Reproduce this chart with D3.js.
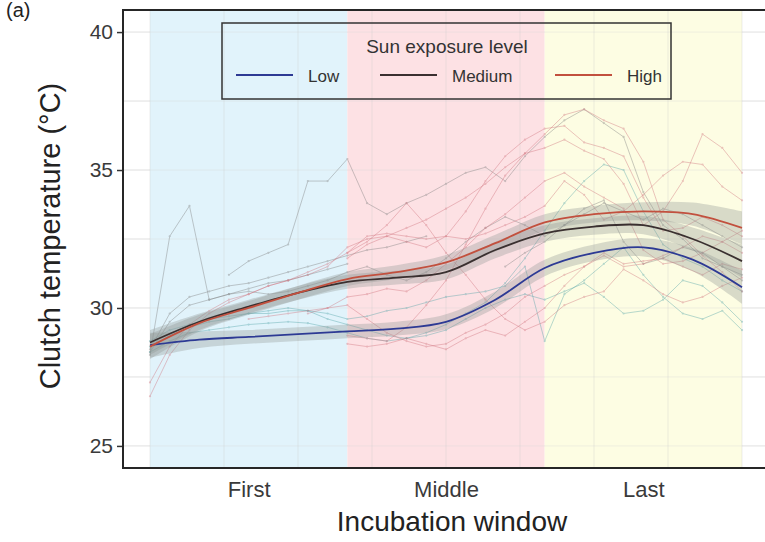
<!DOCTYPE html>
<html>
<head>
<meta charset="utf-8">
<script src="https://cdn.jsdelivr.net/npm/d3@7"></script>
<style>
  html, body { margin: 0; padding: 0; background: #fff; }
  svg { display: block; font-family: "Liberation Sans", Arial, Helvetica, sans-serif; }
</style>
</head>
<body>
<svg id="chart" width="765" height="542"></svg>
<script>
// ---------------- DATA ----------------
const windowNames = ["First", "Middle", "Last"];
const windowStart = [0, 20, 40];   // incubation day
const windowEnd = [20, 40, 60];
const windowFill = ["#e1f3fb", "#fde1e4", "#fdfde3"];

const yTicks = [25, 30, 35, 40];
const yGrid = [25, 27.5, 30, 32.5, 35, 37.5, 40];
const xGrid = [0, 7.5, 15, 22.5, 30, 37.5, 45, 52.5, 60];

const levels = ["Low", "Medium", "High"];
const levelColor = ["#2d3a94", "#3a3030", "#c2503e"];
const traceColor = ["#4ea2a6", "#7c7c7c", "#d06f7a"];

// smoothed fits (every 5 days)
const fitDays = [0, 5, 10, 15, 20, 25, 30, 35, 40, 45, 50, 55, 60];
const fitLow = [28.65, 28.85, 28.95, 29.05, 29.15, 29.25, 29.5, 30.3, 31.45, 32.0, 32.2, 31.75, 30.75];
const fitMedium = [28.75, 29.5, 30.05, 30.55, 30.95, 31.1, 31.3, 32.1, 32.7, 32.95, 33.0, 32.5, 31.7];
const fitHigh = [28.6, 29.45, 30.0, 30.55, 31.05, 31.3, 31.65, 32.35, 33.1, 33.4, 33.5, 33.4, 32.9];
const fitSE = [0.45, 0.3, 0.25, 0.25, 0.25, 0.25, 0.27, 0.3, 0.3, 0.3, 0.33, 0.42, 0.6];

// individual clutches (every 2 days, starting at index traceStart)
const traceStep = 2;
const G1 = [28.3, 32.6, 33.7, 30.3, 30.5, 30.7, 30.9, 31.0, 31.2, 31.4, 31.6];
const G2 = [31.2, 31.7, 32.0, 32.3, 34.6, 34.6, 35.4, 33.8, 33.4, 33.8, 34.1, 34.5, 34.9, 35.1, 34.6, 35.5, 36.2, 36.8, 37.2, 36.7, 36.2, 34.2, 33.0, 32.5, 31.8, 31.5, 31.2];
const G3 = [28.5, 29.8, 30.4, 30.6, 30.8, 30.9, 31.1, 31.3, 31.5, 31.7, 31.9, 32.1, 32.2, 32.4, 32.6];
const G4 = [28.4, 29.5, 30.1, 30.3, 30.5, 30.6, 30.5, 30.6, 30.8, 31.0, 31.3, 31.5, 31.2, 31.0, 31.3, 31.8, 32.4, 32.9, 33.3, 33.0, 32.6, 33.0, 33.4, 33.8, 33.5, 33.2, 33.6, 33.4, 33.0, 32.6, 32.2];
const G5 = [31.5, 32.0, 32.4, 33.0, 33.6, 33.9, 32.4, 31.6, 31.8, 32.2, 32.0, 31.5, 31.0];
const L1 = [28.6, 29.0, 29.3, 29.5, 29.6, 29.8, 29.8, 29.9, 29.9, 29.6, 29.4, 29.2, 29.0, 28.9, 29.1, 29.4, 29.8, 30.2, 30.9, 31.8, 32.8, 33.8, 34.6, 35.2, 35.0, 33.5, 32.3, 31.8, 31.5, 31.0, 30.6];
const L2 = [28.4, 28.8, 29.1, 29.2, 29.3, 29.4, 29.45, 29.5, 29.45, 29.3, 29.1, 28.9, 28.8, 28.9, 29.0, 29.2, 29.6, 30.0, 30.3, 30.5, 30.3, 30.6, 30.9, 30.4, 29.8, 29.9, 30.3, 31.0, 30.8, 30.2, 29.5];
const L3 = [28.8, 29.2, 29.4, 29.6, 29.7, 29.8, 29.9, 30.0, 29.9, 29.8, 29.6, 29.7, 29.9, 30.0, 30.2, 30.4, 30.5, 30.6, 30.8, 31.5, 28.8, 30.5, 31.0, 31.6, 32.2, 31.2, 30.4, 29.8, 29.6, 29.9, 29.2];
const R1 = [26.8, 28.3, 29.2, 29.8, 30.2, 30.5, 30.8, 31.0, 31.3, 31.6, 32.0, 32.6, 32.7, 32.6, 32.5, 32.6, 32.5, 32.7, 33.0, 33.3, 33.7, 34.6, 34.1, 33.2, 33.5, 34.1, 34.8, 35.3, 35.2, 34.4, 33.9];
const R2 = [27.3, 28.6, 29.4, 29.9, 30.3, 30.5, 30.8, 31.0, 31.2, 31.5, 32.2, 32.5, 32.6, 32.4, 32.2, 32.6, 33.5, 34.6, 35.5, 36.1, 36.5, 36.6, 36.0, 35.8, 35.5, 34.0, 32.8, 32.9, 33.3, 33.0, 32.6];
const R3 = [29.0, 28.9, 28.8, 29.3, 30.1, 31.0, 32.3, 33.6, 34.8, 35.6, 36.3, 37.0, 37.2, 36.8, 36.5, 35.3, 33.2, 32.6, 31.9, 31.3, 30.6];
const R4 = [32.0, 32.4, 33.0, 33.8, 33.0, 32.0, 31.2, 30.3, 29.6, 29.2, 29.5, 30.1, 30.4, 30.6, 31.4, 31.0, 30.5, 30.2, 30.4, 30.8, 31.1];
const R5 = [28.7, 28.6, 28.7, 28.9, 28.7, 28.5, 28.9, 29.2, 29.0, 29.5, 30.0, 30.8, 31.5, 32.0, 31.6, 31.7, 31.8, 31.5, 31.2, 31.6, 31.4];
const R6 = [31.8, 32.3, 32.6, 32.9, 33.2, 33.6, 34.0, 34.5, 35.1, 35.6, 35.8, 36.1, 35.7, 35.4, 34.5, 33.0, 33.5, 34.6, 36.3, 35.8, 34.9];
const R7 = [29.8, 30.0, 30.4, 30.5, 30.7, 30.6, 31.0, 31.6, 32.2, 32.9, 33.4, 34.0, 34.6, 34.9, 34.4, 34.0, 33.6, 32.1, 31.6, 31.7, 32.0, 32.4, 32.8];
const R8 = [29.6, 29.7, 29.8, 29.9, 30.0, 30.1, 29.6, 29.1, 28.8, 28.6, 28.7, 29.1, 29.4, 29.8, 30.4, 30.8, 31.2, 31.5, 31.9, 31.5, 31.6, 31.9, 32.2, 32.6, 32.4, 32.0];

const traceValues = [G1, G2, G3, G4, G5, L1, L2, L3, R1, R2, R3, R4, R5, R6, R7, R8];
const traceStart = [0, 4, 0, 0, 18, 0, 0, 0, 0, 0, 10, 10, 10, 10, 8, 5];
const traceLevel = [1, 1, 1, 1, 1, 0, 0, 0, 2, 2, 2, 2, 2, 2, 2, 2];

// ---------------- CHART ----------------
const svg = d3.select("#chart");
const W = 765, H = 542;
const panel = { left: 123, top: 10, right: 765, bottom: 468 };

const x = d3.scaleLinear().domain([-2.736, 62.33]).range([panel.left, panel.right]);
const y = d3.scaleLinear().domain([24.2, 40.8]).range([panel.bottom, panel.top]);

svg.append("rect").attr("width", W).attr("height", H).attr("fill", "#fff");

const clip = svg.append("defs").append("clipPath").attr("id", "clip");
clip.append("rect").attr("x", panel.left).attr("y", panel.top)
  .attr("width", panel.right - panel.left).attr("height", panel.bottom - panel.top);

const plot = svg.append("g").attr("clip-path", "url(#clip)");

// horizontal grid (white panel area)
plot.selectAll("line.hg").data(yGrid).join("line")
  .attr("x1", panel.left).attr("x2", panel.right)
  .attr("y1", d => y(d)).attr("y2", d => y(d))
  .attr("stroke", "#ebebeb").attr("stroke-width", 1);

// window shading
plot.selectAll("rect.win").data(windowNames).join("rect")
  .attr("x", (d, i) => x(windowStart[i]))
  .attr("width", (d, i) => x(windowEnd[i]) - x(windowStart[i]))
  .attr("y", panel.top).attr("height", panel.bottom - panel.top)
  .attr("fill", (d, i) => windowFill[i]);

// grid over shading (faint)
plot.selectAll("line.hg2").data(yGrid).join("line")
  .attr("x1", panel.left).attr("x2", panel.right)
  .attr("y1", d => y(d)).attr("y2", d => y(d))
  .attr("stroke", "#d8d8d8").attr("stroke-opacity", 0.35).attr("stroke-width", 1);
plot.selectAll("line.vg").data(xGrid).join("line")
  .attr("y1", panel.top).attr("y2", panel.bottom)
  .attr("x1", d => x(d)).attr("x2", d => x(d))
  .attr("stroke", "#c8c8c8").attr("stroke-opacity", 0.35).attr("stroke-width", 1);

// individual traces
const traceLine = d3.line()
  .defined(d => d.v != null)
  .x(d => x(d.day)).y(d => y(d.v));

traceValues.forEach((vals, k) => {
  const pts = vals.map((v, j) => ({ day: (traceStart[k] + j) * traceStep, v }));
  const col = traceColor[traceLevel[k]];
  const g = plot.append("g").attr("opacity", 0.4);
  g.append("path").datum(pts).attr("d", traceLine)
    .attr("fill", "none").attr("stroke", col).attr("stroke-width", 1);
  g.selectAll("circle").data(pts).join("circle")
    .attr("cx", d => x(d.day)).attr("cy", d => y(d.v)).attr("r", 1.1)
    .attr("fill", col);
});

// fitted ribbons and lines
const fits = [fitLow, fitMedium, fitHigh];
const curve = d3.curveCatmullRom.alpha(0.5);
const area = d3.area().curve(curve)
  .x((d, i) => x(fitDays[i]))
  .y0((d, i) => y(d - fitSE[i])).y1((d, i) => y(d + fitSE[i]));
const line = d3.line().curve(curve)
  .x((d, i) => x(fitDays[i])).y(d => y(d));

fits.forEach((f) => {
  plot.append("path").datum(f).attr("d", area)
    .attr("fill", "#8e9593").attr("fill-opacity", 0.33);
});
fits.forEach((f, i) => {
  plot.append("path").datum(f).attr("d", line)
    .attr("fill", "none").attr("stroke", levelColor[i]).attr("stroke-width", 1.8);
});

// panel border
svg.append("rect")
  .attr("x", panel.left).attr("y", panel.top)
  .attr("width", panel.right - panel.left + 10).attr("height", panel.bottom - panel.top)
  .attr("fill", "none").attr("stroke", "#262626").attr("stroke-width", 2);

// y axis
const yAxis = svg.append("g").attr("transform", `translate(${panel.left - 1},0)`)
  .call(d3.axisLeft(y).tickValues(yTicks).tickSize(5).tickPadding(4).tickFormat(d3.format("d")));
yAxis.select(".domain").remove();
yAxis.selectAll(".tick line").attr("stroke", "#333").attr("stroke-width", 1.5);
yAxis.selectAll(".tick text").attr("font-size", 21).attr("fill", "#3a3a3a")
  .attr("font-family", "'Liberation Sans', Arial, sans-serif");

// x axis (category labels at window centers)
const xAxis = svg.append("g").attr("transform", `translate(0,${panel.bottom})`)
  .call(d3.axisBottom(x)
    .tickValues(windowStart.map((s, i) => (s + windowEnd[i]) / 2))
    .tickFormat((d, i) => windowNames[i]).tickSize(0).tickPadding(13));
xAxis.select(".domain").remove();
xAxis.selectAll(".tick text").attr("font-size", 22).attr("fill", "#3a3a3a")
  .attr("font-family", "'Liberation Sans', Arial, sans-serif");

// axis titles
svg.append("text").attr("x", 452).attr("y", 531).attr("text-anchor", "middle")
  .attr("font-size", 28).attr("fill", "#222").text("Incubation window");
svg.append("text").attr("transform", "translate(60,236) rotate(-90)")
  .attr("text-anchor", "middle").attr("font-size", 29).attr("fill", "#222")
  .text("Clutch temperature (°C)");

// panel tag
svg.append("text").attr("x", 6).attr("y", 17).attr("font-size", 20).attr("fill", "#222").text("(a)");

// legend
const leg = svg.append("g");
leg.append("rect").attr("x", 222).attr("y", 23).attr("width", 449).attr("height", 76)
  .attr("fill", "none").attr("stroke", "#333").attr("stroke-width", 1.5);
leg.append("text").attr("x", 447).attr("y", 53).attr("text-anchor", "middle")
  .attr("font-size", 19).attr("fill", "#333").text("Sun exposure level");
const legX = [236, 380, 555];
levels.forEach((lv, i) => {
  leg.append("line").attr("x1", legX[i]).attr("x2", legX[i] + 57)
    .attr("y1", 75).attr("y2", 75).attr("stroke", levelColor[i]).attr("stroke-width", 2);
  leg.append("text").attr("x", legX[i] + 72).attr("y", 82)
    .attr("font-size", 17).attr("fill", "#333").text(lv);
});
</script>
</body>
</html>
